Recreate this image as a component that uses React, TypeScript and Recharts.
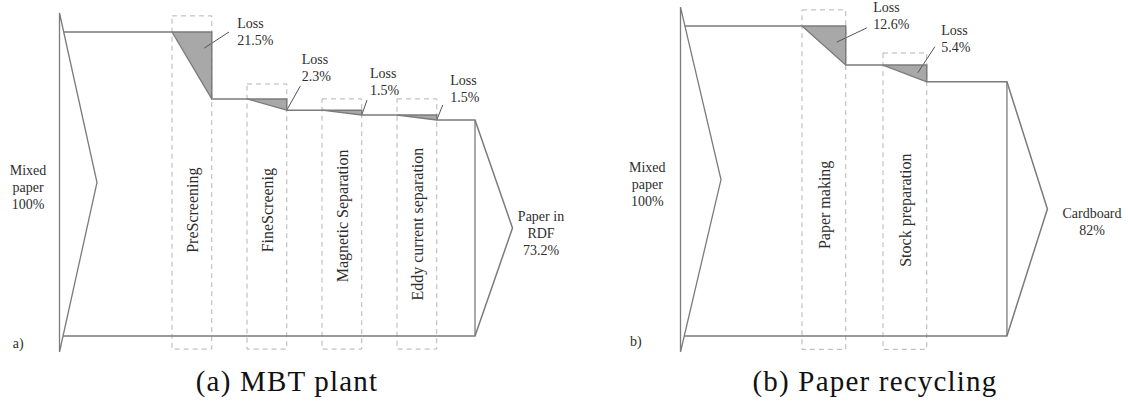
import React from "react";
import { ComposedChart, XAxis, YAxis, Line, Area, Scatter, ReferenceArea } from "recharts";

// (a) MBT plant
const mbtStages = ["PreScreening", "FineScreenig", "Magnetic Separation", "Eddy current separation"];
const mbtLoss = ["21.5%", "2.3%", "1.5%", "1.5%"];
// height of the flow band as drawn after each step (the sketch is not to scale)
const mbtLevels = [100, 78, 74.3, 72.7, 71.05];
const mbtInput = ["Mixed", "paper", "100%"];
const mbtOutput = ["Paper in", "RDF", "73.2%"];

// (b) Paper recycling
const recStages = ["Paper making", "Stock preparation"];
const recLoss = ["12.6%", "5.4%"];
const recLevels = [100, 87.4, 82];
const recInput = ["Mixed", "paper", "100%"];
const recOutput = ["Cardboard", "82%"];

const LINE = "#7b7b7b";
const FILL = "#a8a8a8";
const BOX = "#b4b4b4";
const INK = "#2e2e2e";
const SERIF = "'Liberation Serif', 'Times New Roman', serif";

type Pt = [number, number];

interface PanelSpec {
  tag: string;
  stages: string[];
  loss: string[];
  levels: number[];
  input: string[];
  output: string[];
  left: number;
  margin: { top: number; right: number; bottom: number; left: number };
  xDomain: [number, number];
  yDomain: [number, number];
  boxW: number;
  boxTop: number[];
  boxBottom: number;
  inX: number;
  tipTop: number;
  tipBottom: number;
  outX: number;
  stageY: number[];
  lossAt: Pt[];
  leaders: [Pt, Pt][];
  inputAt: Pt;
  outputAt: Pt;
  tagAt: Pt;
}

const TextMark = (props: any) => {
  const { cx, cy, payload } = props;
  if (cx == null || cy == null) return null;
  const { lines, anchor, rotate } = payload;
  return (
    <text
      x={cx}
      y={cy}
      textAnchor={anchor}
      dominantBaseline="central"
      fontFamily={SERIF}
      fontSize={rotate ? 16 : 14}
      fill={INK}
      transform={rotate ? `rotate(-90 ${cx} ${cy})` : undefined}
    >
      {lines.map((t: string, i: number) => (
        <tspan key={i} x={cx} dy={i === 0 ? 0 : 17}>
          {t}
        </tspan>
      ))}
    </text>
  );
};

function FlowPanel({ p }: { p: PanelSpec }) {
  const last = p.levels[p.levels.length - 1];
  const mid = (p.tipTop + p.tipBottom) / 2;
  const startTop = p.inX + (0.5 * (p.tipTop - p.levels[0])) / (p.tipTop - mid);
  const startBottom = p.inX + (0.5 * (0 - p.tipBottom)) / (mid - p.tipBottom);

  const inputArrow = [
    { x: p.inX, y: p.tipBottom },
    { x: p.inX, y: p.tipTop },
    { x: p.inX + 0.5, y: mid },
    { x: p.inX, y: p.tipBottom },
  ];

  const outline: { x: number; y: number }[] = [{ x: startTop, y: p.levels[0] }];
  p.stages.forEach((_, i) => {
    outline.push({ x: i + p.boxW, y: p.levels[i] });
    outline.push({ x: i + p.boxW, y: p.levels[i + 1] });
  });
  outline.push({ x: p.outX, y: last });
  outline.push({ x: p.outX + 0.5, y: last / 2 });
  outline.push({ x: p.outX, y: 0 });
  outline.push({ x: startBottom, y: 0 });

  const outVertical = [
    { x: p.outX, y: last },
    { x: p.outX, y: 0 },
  ];

  const texts = [
    ...p.stages.map((s, i) => ({ x: i + p.boxW / 2, y: p.stageY[i], lines: [s], anchor: "middle", rotate: true })),
    ...p.loss.map((l, i) => ({ x: p.lossAt[i][0], y: p.lossAt[i][1], lines: ["Loss", l], anchor: "start", rotate: false })),
    { x: p.inputAt[0], y: p.inputAt[1], lines: p.input, anchor: "middle", rotate: false },
    { x: p.outputAt[0], y: p.outputAt[1], lines: p.output, anchor: "middle", rotate: false },
    { x: p.tagAt[0], y: p.tagAt[1], lines: [p.tag], anchor: "middle", rotate: false },
  ];

  return (
    <div style={{ position: "absolute", left: p.left, top: 0 }}>
      <ComposedChart width={564} height={407} margin={p.margin}>
        <XAxis type="number" dataKey="x" domain={p.xDomain} hide />
        <YAxis type="number" domain={p.yDomain} hide />
        {p.stages.map((s, i) => (
          <ReferenceArea
            key={"box" + i}
            x1={i}
            x2={i + p.boxW}
            y1={p.boxBottom}
            y2={p.boxTop[i]}
            fill="none"
            stroke={BOX}
            strokeWidth={1}
            strokeDasharray="5 4"
          />
        ))}
        {p.stages.map((s, i) => (
          <Area
            key={"loss" + i}
            data={[
              { x: i, band: [p.levels[i], p.levels[i]] },
              { x: i + p.boxW, band: [p.levels[i + 1], p.levels[i]] },
            ]}
            dataKey="band"
            type="linear"
            fill={FILL}
            fillOpacity={1}
            stroke="none"
            isAnimationActive={false}
            activeDot={false}
          />
        ))}
        {p.stages.map((s, i) => (
          <Line
            key={"diag" + i}
            data={[
              { x: i, y: p.levels[i] },
              { x: i + p.boxW, y: p.levels[i + 1] },
            ]}
            dataKey="y"
            type="linear"
            stroke={LINE}
            strokeWidth={1.3}
            dot={false}
            activeDot={false}
            isAnimationActive={false}
          />
        ))}
        {p.leaders.map((l, i) => (
          <Line
            key={"lead" + i}
            data={[
              { x: l[0][0], y: l[0][1] },
              { x: l[1][0], y: l[1][1] },
            ]}
            dataKey="y"
            type="linear"
            stroke="#555"
            strokeWidth={1}
            dot={false}
            activeDot={false}
            isAnimationActive={false}
          />
        ))}
        <Line data={inputArrow} dataKey="y" type="linear" stroke={LINE} strokeWidth={1.3} dot={false} activeDot={false} isAnimationActive={false} />
        <Line data={outline} dataKey="y" type="linear" stroke={LINE} strokeWidth={1.5} dot={false} activeDot={false} isAnimationActive={false} />
        <Line data={outVertical} dataKey="y" type="linear" stroke={LINE} strokeWidth={1.3} dot={false} activeDot={false} isAnimationActive={false} />
        <Scatter data={texts} dataKey="y" shape={TextMark} isAnimationActive={false} />
      </ComposedChart>
    </div>
  );
}

const mbtPanel: PanelSpec = {
  tag: "a)",
  stages: mbtStages,
  loss: mbtLoss,
  levels: mbtLevels,
  input: mbtInput,
  output: mbtOutput,
  left: 0,
  margin: { top: 1.6, right: 2, bottom: 40.6, left: 3.25 },
  xDomain: [-2.25, 5.2],
  yDomain: [-10, 110],
  boxW: 0.53,
  boxTop: [105.3, 82.9, 78, 78],
  boxBottom: -4.3,
  inX: -1.5,
  tipTop: 106.25,
  tipBottom: -5.26,
  outX: 4.04,
  stageY: [41.4, 41.4, 39.5, 36.8],
  lossAt: [
    [0.87, 103],
    [1.73, 91.1],
    [2.64, 86.5],
    [3.71, 84.2],
  ],
  leaders: [
    [[0.43, 94.7], [0.76, 100]],
    [[1.53, 74.3], [1.71, 82.2]],
    [[2.53, 72.7], [2.6, 77.6]],
    [[3.53, 71.05], [3.61, 76]],
  ],
  inputAt: [-1.92, 54.6],
  outputAt: [4.92, 39.5],
  tagAt: [-2.05, -2.3],
};

const recPanel: PanelSpec = {
  tag: "b)",
  stages: recStages,
  loss: recLoss,
  levels: recLevels,
  input: recInput,
  output: recOutput,
  left: 564,
  margin: { top: 1.2, right: 2, bottom: 40, left: 35.5 },
  xDomain: [-2.5, 4.0],
  yDomain: [-10, 108],
  boxW: 0.54,
  boxTop: [105.2, 91.3],
  boxBottom: -4.3,
  inX: -1.5,
  tipTop: 106.1,
  tipBottom: -5.16,
  outX: 2.53,
  stageY: [42.3, 40.6],
  lossAt: [
    [0.88, 106.1],
    [1.72, 98.7],
  ],
  leaders: [
    [[0.43, 94.8], [0.8, 99.4]],
    [[1.43, 84.9], [1.64, 93.3]],
  ],
  inputAt: [-1.91, 54.5],
  outputAt: [3.58, 39.7],
  tagAt: [-2.05, -1.6],
};

const captionStyle: React.CSSProperties = {
  position: "absolute",
  top: 365,
  width: 400,
  textAlign: "center",
  fontFamily: SERIF,
  fontSize: 29,
  letterSpacing: 1.2,
  color: "#111",
  lineHeight: "32px",
};

export default function App() {
  return (
    <div style={{ position: "absolute", left: 0, top: 0, width: 1128, height: 407, background: "#fff", overflow: "hidden" }}>
      <FlowPanel p={mbtPanel} />
      <FlowPanel p={recPanel} />
      <div style={{ ...captionStyle, left: 287 - 200 }}>(a) MBT plant</div>
      <div style={{ ...captionStyle, left: 875 - 200 }}>(b) Paper recycling</div>
    </div>
  );
}
